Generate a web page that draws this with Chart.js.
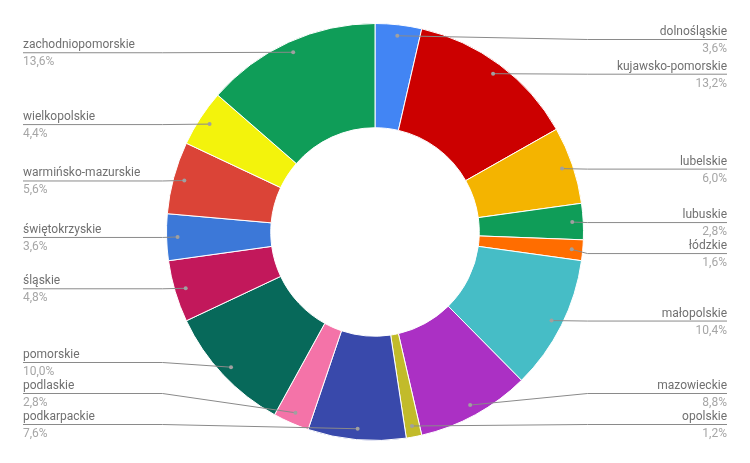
<!DOCTYPE html>
<html lang="pl">
<head>
<meta charset="utf-8">
<script src="https://cdn.jsdelivr.net/npm/chart.js@4"></script>
<style>
    html, body { margin: 0; padding: 0; background: #fff; }
    #wrap { width: 750px; height: 463px; }
</style>
</head>
<body>
<div id="wrap"><canvas id="wykres" width="750" height="463"></canvas></div>
<script>
let wojewodztwa = [
    "dolnośląskie", "kujawsko-pomorskie", "lubelskie", "lubuskie",
    "łódzkie", "małopolskie", "mazowieckie", "opolskie",
    "podkarpackie", "podlaskie", "pomorskie", "śląskie",
    "świętokrzyskie", "warmińsko-mazurskie", "wielkopolskie", "zachodniopomorskie"
]
let udzialy = [3.6, 13.2, 6.0, 2.8, 1.6, 10.4, 8.8, 1.2, 7.6, 2.8, 10.0, 4.8, 3.6, 5.6, 4.4, 13.6]
let kolory = [
    "#4285f4", "#cc0000", "#f4b400", "#0f9d58",
    "#ff6d00", "#46bdc6", "#ab30c4", "#c2bb2a",
    "#3949ab", "#f473a8", "#07695a", "#c2185b",
    "#3c78d8", "#db4437", "#f3f30c", "#0f9d58"
]

// etykiety z liniami odniesienia, jak w Google Charts
const etykiety = {
    id: "etykiety",
    afterDatasetsDraw(chart) {
        let ctx = chart.ctx
        let meta = chart.getDatasetMeta(0)
        let area = chart.chartArea
        let total = udzialy.reduce((a, b) => a + b, 0)
        let minY = area.top + 16
        let maxY = area.bottom - 17
        let odstep = 31

        let prawe = [], lewe = []
        meta.data.forEach((arc, i) => {
            let p = arc.getProps(["x", "y", "startAngle", "endAngle", "outerRadius"], true)
            let kat = (p.startAngle + p.endAngle) / 2
            let r = p.outerRadius - 11
            let e = {
                i: i, cx: p.x, cy: p.y, R: p.outerRadius,
                dx: p.x + Math.cos(kat) * r,
                dy: p.y + Math.sin(kat) * r
            }
            e.y = Math.min(Math.max(e.dy, minY), maxY)
            if (e.dx >= p.x) prawe.push(e); else lewe.push(e)
        })

        ;[prawe, lewe].forEach((strona, s) => {
            strona.sort((a, b) => a.dy - b.dy)
            for (let k = 1; k < strona.length; k++)
                strona[k].y = Math.max(strona[k].y, strona[k - 1].y + odstep)
            for (let k = strona.length - 1; k >= 0; k--) {
                let granica = k === strona.length - 1 ? maxY : strona[k + 1].y - odstep
                strona[k].y = Math.min(strona[k].y, granica)
            }

            strona.forEach(e => {
                let znak = s === 0 ? 1 : -1
                let zgiecie = e.cx + znak * (e.R + 4)
                let tekstX = e.cx + znak * 352

                ctx.save()
                ctx.strokeStyle = "#8a8a8a"
                ctx.lineWidth = 1
                ctx.beginPath()
                ctx.moveTo(e.dx, e.dy)
                ctx.lineTo(zgiecie, e.y + 0.5)
                ctx.lineTo(tekstX, e.y + 0.5)
                ctx.stroke()

                ctx.fillStyle = "#a0a0a0"
                ctx.beginPath()
                ctx.arc(e.dx, e.dy, 2, 0, Math.PI * 2)
                ctx.fill()

                ctx.font = "12px Roboto"
                ctx.textAlign = s === 0 ? "right" : "left"
                ctx.textBaseline = "alphabetic"
                ctx.fillStyle = "#707070"
                ctx.fillText(wojewodztwa[e.i], tekstX, e.y - 4)
                ctx.fillStyle = "#a6a6a6"
                let proc = (udzialy[e.i] / total * 100).toFixed(1).replace(".", ",") + "%"
                ctx.fillText(proc, tekstX, e.y + 13)
                ctx.restore()
            })
        })
    }
}

new Chart(document.getElementById("wykres"), {
    type: "doughnut",
    data: {
        labels: wojewodztwa,
        datasets: [{
            data: udzialy,
            backgroundColor: kolory,
            borderColor: "#ffffff",
            borderWidth: 1,
            hoverOffset: 0
        }]
    },
    options: {
        responsive: false,
        animation: false,
        cutout: "50%",
        layout: { padding: { top: 23, bottom: 22, left: 0, right: 0 } },
        plugins: {
            legend: { display: false },
            tooltip: { enabled: false }
        }
    },
    plugins: [etykiety]
})
</script>
</body>
</html>
